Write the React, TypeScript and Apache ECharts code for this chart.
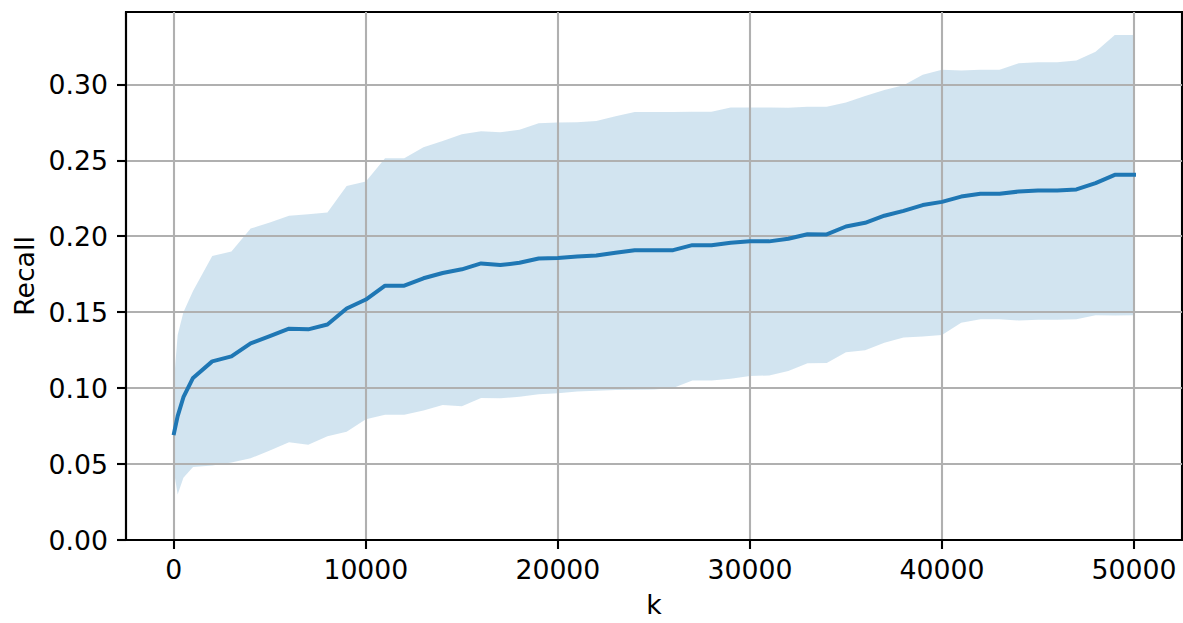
import React, { useEffect, useRef } from "react";
import * as echarts from "echarts";

const ks = [10, 200, 500, 1000, 2000, 3000, 4000, 5000, 6000, 7000, 8000, 9000, 10000,
  11000, 12000, 13000, 14000, 15000, 16000, 17000, 18000, 19000, 20000,
  21000, 22000, 23000, 24000, 25000, 26000, 27000, 28000, 29000, 30000,
  31000, 32000, 33000, 34000, 35000, 36000, 37000, 38000, 39000, 40000,
  41000, 42000, 43000, 44000, 45000, 46000, 47000, 48000, 49000, 50000];

const meanRecall = [0.0703, 0.0815, 0.0940, 0.1067, 0.1176, 0.1209, 0.1295, 0.1342, 0.1391, 0.1387, 0.1419, 0.1524, 0.1583,
  0.1674, 0.1674, 0.1723, 0.1758, 0.1782, 0.1821, 0.1810, 0.1825, 0.1853, 0.1856,
  0.1866, 0.1873, 0.1891, 0.1908, 0.1908, 0.1908, 0.1941, 0.1941, 0.1957, 0.1966,
  0.1966, 0.1983, 0.2013, 0.2012, 0.2064, 0.2088, 0.2135, 0.2167, 0.2205, 0.2226,
  0.2261, 0.2280, 0.2280, 0.2294, 0.2301, 0.2301, 0.2308, 0.2350, 0.2404, 0.2404];

const upperRecall = [0.105, 0.135, 0.150, 0.164, 0.187, 0.190, 0.205, 0.209, 0.2135, 0.2144, 0.2156, 0.233, 0.236,
  0.2513, 0.2513, 0.2586, 0.2626, 0.2672, 0.2691, 0.2684, 0.2700, 0.2743, 0.2748,
  0.2750, 0.2759, 0.2789, 0.2817, 0.2817, 0.2817, 0.2820, 0.2820, 0.2848, 0.2848,
  0.2848, 0.2846, 0.2852, 0.2852, 0.2880, 0.2923, 0.2962, 0.2993, 0.3063, 0.3096,
  0.3091, 0.3096, 0.3096, 0.3138, 0.3145, 0.3145, 0.3156, 0.3215, 0.3325, 0.3325];

const lowerRecall = [0.045, 0.030, 0.041, 0.048, 0.049, 0.051, 0.0538, 0.059, 0.0643, 0.0627, 0.0683, 0.0713, 0.0795,
  0.0825, 0.0825, 0.0853, 0.0888, 0.0881, 0.0935, 0.0933, 0.0943, 0.0959, 0.0966,
  0.0977, 0.0982, 0.0987, 0.0989, 0.0991, 0.1001, 0.1050, 0.1050, 0.1061, 0.1080,
  0.1083, 0.1113, 0.1164, 0.1165, 0.1236, 0.1250, 0.1298, 0.1333, 0.1340, 0.1349,
  0.1431, 0.1454, 0.1454, 0.1445, 0.1450, 0.1450, 0.1454, 0.1480, 0.1478, 0.1480];

const xTicks = [0, 10000, 20000, 30000, 40000, 50000];
const yTicks = [0, 0.05, 0.1, 0.15, 0.2, 0.25, 0.3];

const FONT = "DejaVu Sans";
const FS = 26.7;

export default function App() {
  const ref = useRef<HTMLDivElement>(null);
  useEffect(() => {
    if (!ref.current) return;
    const chart = echarts.init(ref.current, undefined, { renderer: "svg" });
    chart.setOption({
      animation: false,
      backgroundColor: "#ffffff",
      grid: {
        left: 126, right: 1, top: 12, bottom: 80,
        show: true, borderColor: "#000", borderWidth: 2.1, backgroundColor: "transparent",
      },
      xAxis: {
        type: "value",
        min: -2490,
        max: 52500,
        name: "k",
        nameLocation: "middle",
        nameGap: 51,
        nameTextStyle: { fontFamily: FONT, fontSize: FS, color: "#000" },
        axisLine: { show: true, onZero: false, lineStyle: { color: "#000", width: 2.1 } },
        axisTick: { show: true, length: 9, customValues: xTicks, lineStyle: { color: "#000", width: 2.1 } },
        axisLabel: {
          customValues: xTicks,
          fontFamily: FONT, fontSize: FS, color: "#000", margin: 16,
          formatter: (v: number) => String(v),
        },
        splitLine: { show: true, lineStyle: { color: "#b0b0b0", width: 2.1 } },
      },
      yAxis: {
        type: "value",
        min: 0,
        max: 0.3476,
        name: "Recall",
        nameLocation: "middle",
        nameGap: 87,
        nameTextStyle: { fontFamily: FONT, fontSize: FS, color: "#000" },
        axisLine: { show: true, onZero: false, lineStyle: { color: "#000", width: 2.1 } },
        axisTick: { show: true, length: 9, customValues: yTicks, lineStyle: { color: "#000", width: 2.1 } },
        axisLabel: {
          customValues: yTicks,
          fontFamily: FONT, fontSize: FS, color: "#000", margin: 18,
          formatter: (v: number) => v.toFixed(2),
        },
        splitLine: { show: true, lineStyle: { color: "#b0b0b0", width: 2.1 } },
      },
      series: [
        {
          type: "custom",
          silent: true,
          z: -1,
          clip: true,
          data: [[ks[0], lowerRecall[0]]],
          renderItem: (_params: any, api: any) => {
            const pts: number[][] = [];
            for (let i = 0; i < ks.length; i++) pts.push(api.coord([ks[i], upperRecall[i]]));
            for (let i = ks.length - 1; i >= 0; i--) pts.push(api.coord([ks[i], lowerRecall[i]]));
            return {
              type: "polygon",
              shape: { points: pts },
              style: { fill: "rgba(31,119,180,0.2)", stroke: "none" },
            };
          },
        },
        {
          type: "line",
          z: 3,
          symbol: "none",
          data: ks.map((k, i) => [k, meanRecall[i]]),
          lineStyle: { color: "#1f77b4", width: 4, cap: "square", join: "round" },
        },
      ],
    });
    return () => chart.dispose();
  }, []);
  return (
    <div
      ref={ref}
      style={{ position: "fixed", left: 0, top: 0, width: 1183, height: 623, background: "#fff" }}
    />
  );
}
